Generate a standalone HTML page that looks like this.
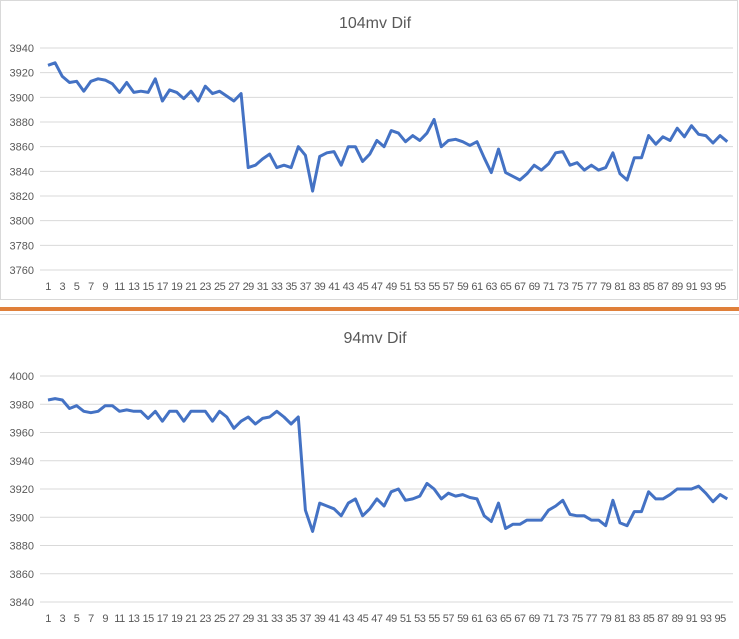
<!DOCTYPE html>
<html><head><meta charset="utf-8"><style>
html,body{margin:0;padding:0;background:#fff;width:739px;height:639px;overflow:hidden}
svg text{font-family:"Liberation Sans",sans-serif;fill:#595959}
</style></head><body>
<svg id="s" width="739" height="639" xmlns="http://www.w3.org/2000/svg"></svg>
<script>
const A=[3926,3928,3917,3912,3913,3905,3913,3915,3914,3911,3904,3912,3904,3905,3904,3915,3897,3906,3904,3899,3905,3897,3909,3903,3905,3901,3897,3903,3843,3845,3850,3854,3843,3845,3843,3860,3853,3824,3852,3855,3856,3845,3860,3860,3848,3854,3865,3860,3873,3871,3864,3869,3865,3871,3882,3860,3865,3866,3864,3861,3864,3851,3839,3858,3839,3836,3833,3838,3845,3841,3846,3855,3856,3845,3847,3841,3845,3841,3843,3855,3838,3833,3851,3851,3869,3862,3868,3865,3875,3868,3877,3870,3869,3863,3869,3864];
const B=[3983,3984,3983,3977,3979,3975,3974,3975,3979,3979,3975,3976,3975,3975,3970,3975,3968,3975,3975,3968,3975,3975,3975,3968,3975,3971,3963,3968,3971,3966,3970,3971,3975,3971,3966,3971,3905,3890,3910,3908,3906,3901,3910,3913,3901,3906,3913,3908,3918,3920,3912,3913,3915,3924,3920,3913,3917,3915,3916,3914,3913,3901,3897,3910,3892,3895,3895,3898,3898,3898,3905,3908,3912,3902,3901,3901,3898,3898,3894,3912,3896,3894,3904,3904,3918,3913,3913,3916,3920,3920,3920,3922,3917,3911,3916,3913];
let h='<rect x="0.5" y="0.5" width="737" height="299" fill="#fff" stroke="#d9d9d9"/>';
h+='<rect x="0" y="307" width="739" height="4" fill="#e0803a"/>';
h+='<line x1="0" y1="314.5" x2="739" y2="314.5" stroke="#d9d9d9"/>';
function chart(d,title,ty,vmax,vmin,y0,y1,xly){
 h+=`<text x="375" y="${ty}" font-size="16" text-anchor="middle">${title}</text>`;
 const sc=(y1-y0)/(vmax-vmin);
 for(let v=vmin;v<=vmax;v+=20){const y=y0+(vmax-v)*sc;
  h+=`<line x1="40" y1="${y}" x2="733" y2="${y}" stroke="#d9d9d9"/>`;
  h+=`<text x="34" y="${y+4}" font-size="11" text-anchor="end">${v}</text>`;}
 const X=i=>48+i*7.15;
 for(let i=0;i<96;i+=2)h+=`<text x="${X(i)}" y="${xly}" font-size="11" text-anchor="middle" letter-spacing="-0.5">${i+1}</text>`;
 h+=`<polyline fill="none" stroke="#4472c4" stroke-width="3" stroke-linejoin="round" points="${d.map((v,i)=>X(i).toFixed(1)+','+(y0+(vmax-v)*sc).toFixed(1)).join(' ')}"/>`;
}
chart(A,'104mv Dif',28,3940,3760,48,270,290);
chart(B,'94mv Dif',343,4000,3840,376,602,622);
document.getElementById('s').innerHTML=h;
</script>
</body></html>
